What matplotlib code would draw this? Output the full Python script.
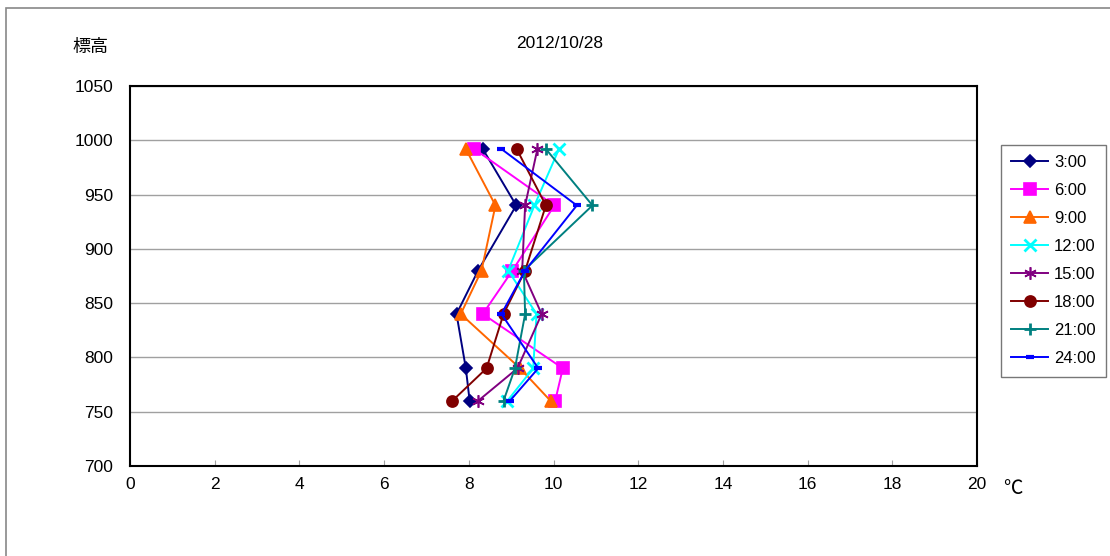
import matplotlib
matplotlib.use("Agg")
import matplotlib.pyplot as plt
from matplotlib.patches import Rectangle

plt.rcParams['font.family'] = ['Liberation Sans', 'Noto Sans CJK JP', 'DejaVu Sans']

heights = [992, 940, 880, 840, 790, 760]
series_names = ["3:00", "6:00", "9:00", "12:00", "15:00", "18:00", "21:00", "24:00"]
t_0300 = [8.33, 9.12, 8.22, 7.71, 7.93, 8.02]
t_0600 = [8.13, 10.02, 9.03, 8.33, 10.22, 10.04]
t_0900 = [7.93, 8.63, 8.30, 7.81, 9.21, 9.93]
t_1200 = [10.13, 9.55, 8.93, 9.60, 9.52, 8.91]
t_1500 = [9.62, 9.33, 9.26, 9.72, 9.15, 8.22]
t_1800 = [9.13, 9.82, 9.33, 8.82, 8.42, 7.61]
t_2100 = [9.82, 10.92, 9.30, 9.33, 9.09, 8.82]
t_2400 = [8.77, 10.55, 9.33, 8.77, 9.64, 8.97]
series = [t_0300, t_0600, t_0900, t_1200, t_1500, t_1800, t_2100, t_2400]

colors = ["#000080", "#FF00FF", "#FF6600", "#00FFFF", "#800080", "#800000", "#008080", "#0000FF"]
markers = ["D", "s", "^", "x", (6, 2, 0), "o", "+", "_"]
msizes = [6, 8, 8, 8, 9, 8, 9, 6]

W, H = 1110, 556
fig = plt.figure(figsize=(W / 100, H / 100), dpi=100)
fig.patches.append(Rectangle((6 / W, -0.01), 1.2, (H - 8) / H + 0.01, transform=fig.transFigure,
                             fill=False, edgecolor="#888888", linewidth=1.2))

ax = fig.add_axes([130 / W, 1 - 466 / H, (977 - 130) / W, (466 - 86) / H])
for name, vals, c, m, ms in zip(series_names, series, colors, markers, msizes):
    mew = 2 if m in ("x", "+") else (3 if m == "_" else 1.2)
    ax.plot(vals, heights, color=c, marker=m, markersize=ms, linewidth=1.4,
            markeredgecolor=c, markerfacecolor=c, markeredgewidth=mew, label=name)

ax.set_xlim(0, 20)
ax.set_ylim(700, 1050)
ax.set_xticks(range(0, 21, 2))
ax.set_yticks(range(700, 1051, 50))
ax.yaxis.grid(True, color="#a0a0a0", linewidth=1)
ax.set_axisbelow(True)
ax.tick_params(axis='x', direction='in', length=4, color="#a0a0a0", labelsize=12.5, pad=8)
ax.tick_params(axis='y', length=0, labelsize=12.5, pad=12)
for s in ax.spines.values():
    s.set_color("black")
    s.set_linewidth(1.5)

fig.text(560 / W, 1 - 44 / H, "2012/10/28", ha="center", va="center", fontsize=12.5)
fig.text(90 / W, 1 - 47 / H, "標高", ha="center", va="center", fontsize=13,
         family=['Noto Sans CJK JP', 'DejaVu Sans'])
fig.text(1013 / W, 1 - 489 / H, "℃", ha="center", va="center", fontsize=14,
         family=['Noto Sans CJK JP', 'DejaVu Sans'])

leg = ax.legend(loc="upper left", bbox_to_anchor=(1001 / W, 1 - 145 / H), bbox_transform=fig.transFigure,
                borderaxespad=0, frameon=True, fancybox=False, edgecolor="#555555", fontsize=12,
                handlelength=2.2, labelspacing=0.78, borderpad=0.62, handletextpad=0.35)
leg.get_frame().set_linewidth(1)

fig.savefig("out.png", dpi=100)
